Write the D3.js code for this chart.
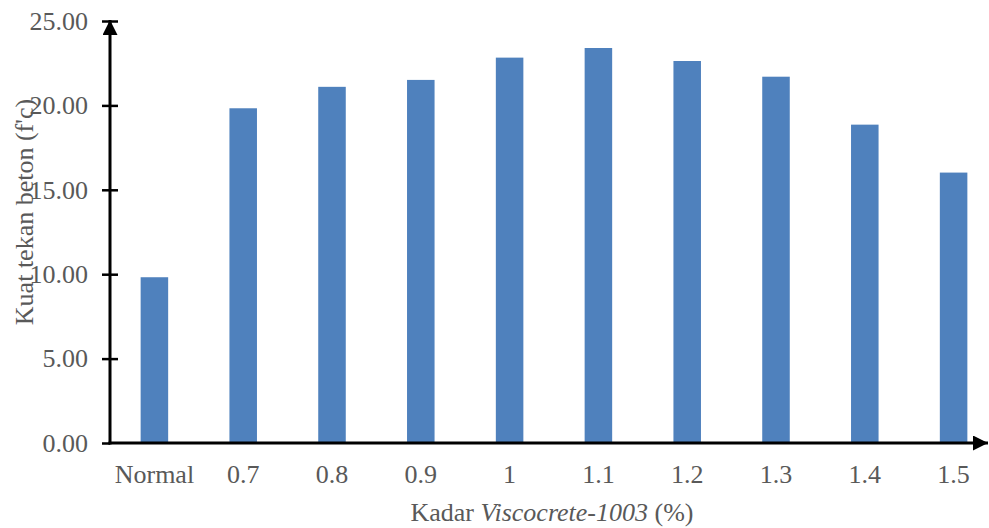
<!DOCTYPE html>
<html>
<head>
<meta charset="utf-8">
<title>Kuat tekan beton</title>
<script src="https://cdn.jsdelivr.net/npm/d3@7"></script>
<style>
  body { margin: 0; background: #fff; }
  svg text { font-family: "Liberation Serif", "Times New Roman", "DejaVu Serif", serif !important; fill: #595959; }
</style>
</head>
<body>
<svg id="svg"></svg>
<script>
var WIDTH = 989;
var HEIGHT = 528;

// data
var categories = ["Normal", "0.7", "0.8", "0.9", "1", "1.1", "1.2", "1.3", "1.4", "1.5"];
var values = [9.82, 19.83, 21.10, 21.51, 22.83, 23.40, 22.63, 21.70, 18.86, 16.02];
var yTicks = [0, 5, 10, 15, 20, 25];

var svg = d3.select("#svg")
            .attr("width", WIDTH)
            .attr("height", HEIGHT);

var x = d3.scaleBand()
          .domain(categories)
          .range([110, 998])
          .paddingInner(0.69)
          .paddingOuter(0.345);

var y = d3.scaleLinear()
          .domain([0, 25])
          .range([443, 21]);

svg.append("defs").append("marker")
   .attr("id", "arrow")
   .attr("viewBox", "0 0 10 10")
   .attr("refX", 10).attr("refY", 5)
   .attr("markerWidth", 5).attr("markerHeight", 5)
   .attr("orient", "auto")
   .append("path")
   .attr("d", "M0,0 L10,5 L0,10 Z")
   .attr("fill", "#000");

// bars
svg.selectAll("rect.bar")
   .data(values)
   .enter()
   .append("rect")
   .attr("class", "bar")
   .attr("x", function(d, i){ return x(categories[i]); })
   .attr("width", x.bandwidth())
   .attr("y", function(d){ return y(d); })
   .attr("height", function(d){ return y(0) - y(d); })
   .attr("fill", "#4F81BD");

// y axis
var yAxis = d3.axisLeft(y)
              .tickValues(yTicks)
              .tickSize(0)
              .tickPadding(22)
              .tickFormat(d3.format(".2f"));
var gy = svg.append("g").attr("transform", "translate(110,0)").call(yAxis);
gy.select(".domain").remove();
gy.selectAll(".tick text")
  .attr("font-size", "26px")
  .attr("fill", "#595959");
gy.selectAll(".tick").append("line")
  .attr("x1", -8)
  .attr("x2", function(d){ return d === 0 ? 0 : 8; })
  .attr("stroke", "#000")
  .attr("stroke-width", 2.5);

svg.append("line")
   .attr("x1", 110).attr("x2", 110)
   .attr("y1", y(0) + 1.5).attr("y2", y(25) - 1)
   .attr("stroke", "#000")
   .attr("stroke-width", 3)
   .attr("marker-end", "url(#arrow)");

// x axis
var xAxis = d3.axisBottom(x).tickSize(0).tickPadding(22);
var gx = svg.append("g").attr("transform", "translate(0," + y(0) + ")").call(xAxis);
gx.select(".domain").remove();
gx.selectAll(".tick text")
  .attr("font-size", "26px")
  .attr("fill", "#595959");

svg.append("line")
   .attr("x1", 108.5).attr("x2", 988)
   .attr("y1", y(0)).attr("y2", y(0))
   .attr("stroke", "#000")
   .attr("stroke-width", 3)
   .attr("marker-end", "url(#arrow)");

// axis titles
var xTitle = svg.append("text")
   .attr("x", 552)
   .attr("y", 521)
   .attr("text-anchor", "middle")
   .attr("font-size", "26px");
xTitle.append("tspan").text("Kadar ");
xTitle.append("tspan").attr("font-style", "italic").text("Viscocrete-1003");
xTitle.append("tspan").text(" (%)");

svg.append("text")
   .attr("transform", "translate(33,212) rotate(-90)")
   .attr("text-anchor", "middle")
   .attr("font-size", "26px")
   .text("Kuat tekan beton (f'c)");
</script>
</body>
</html>
